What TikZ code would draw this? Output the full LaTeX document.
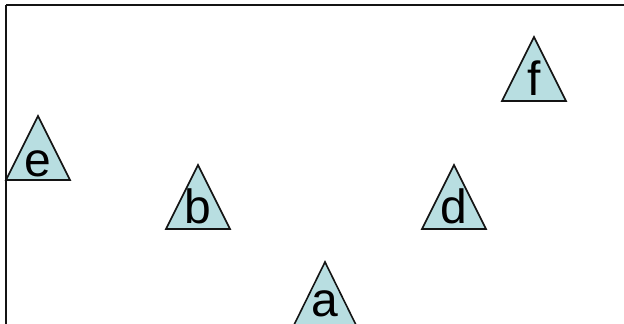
\documentclass[tikz,border=0pt]{standalone}
\usepackage{fontspec}
\setmainfont{Liberation Sans}
\usepackage{tikz}
\definecolor{trifill}{RGB}{184,222,225}
\definecolor{triedge}{RGB}{20,20,20}

\begin{document}
\begin{tikzpicture}[
    x=1pt, y=-1pt,
    frame/.style={draw=triedge, line width=1.8pt},
    tri/.style={draw=triedge, fill=trifill, line width=1.6pt, line join=miter},
    lbl/.style={anchor=base, inner sep=0pt, font=\fontsize{48}{52}\selectfont}
]
\useasboundingbox (0,0) rectangle (624,324);
\draw[frame] (6,5) -- (640,5);
\draw[frame] (6,5) -- (6,340);
% triangles
\draw[tri] (6,180) -- (38,116) -- (70,180) -- cycle;
\draw[tri] (166,229) -- (198,165) -- (230,229) -- cycle;
\draw[tri] (422,229) -- (454,165) -- (486,229) -- cycle;
\draw[tri] (502,101) -- (534,37) -- (566,101) -- cycle;
\draw[tri] (293,327) -- (325,262) -- (357,327) -- cycle;
% labels
\node[lbl] (e) at (38,176) {e};
\node[lbl] (b) at (198,223) {b};
\node[lbl] (d) at (454,223) {d};
\node[lbl] (f) at (534,95) {f};
\node[lbl] (a) at (325,316) {a};
\end{tikzpicture}
\end{document}
